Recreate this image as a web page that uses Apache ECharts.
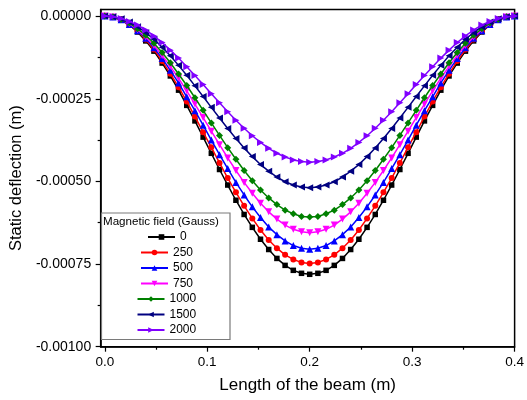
<!DOCTYPE html>
<html>
<head>
<meta charset="utf-8">
<script src="https://cdn.jsdelivr.net/npm/echarts@6/dist/echarts.min.js"></script>
<style>
html,body{margin:0;padding:0;background:#fff;}
#chart{width:527px;height:400px;}
</style>
</head>
<body>
<div id="chart"></div>
<script>
// Position along the beam (m)
const beamX = [0,0.008,0.016,0.024,0.032,0.04,0.048,0.056,0.064,0.072,0.08,0.088,0.096,0.104,0.112,0.12,0.128,0.136,0.144,0.152,0.16,0.168,0.176,0.184,0.192,0.2,0.208,0.216,0.224,0.232,0.24,0.248,0.256,0.264,0.272,0.28,0.288,0.296,0.304,0.312,0.32,0.328,0.336,0.344,0.352,0.36,0.368,0.376,0.384,0.392,0.4];

// Static deflection in micrometres (1e-6 m) for each magnetic field
const g0    = [0,-3,-12,-27,-48,-75,-106,-142,-181,-224,-270,-317,-366,-415,-464,-511,-557,-600,-639,-675,-706,-733,-754,-769,-778,-781,-778,-769,-754,-733,-706,-675,-639,-600,-557,-511,-464,-415,-366,-317,-270,-224,-181,-142,-106,-75,-48,-27,-12,-3,0];
const g250  = [0,-3,-12,-26,-46,-71,-101,-136,-174,-215,-258,-304,-351,-397,-444,-490,-533,-574,-612,-647,-677,-702,-722,-736,-745,-748,-745,-736,-722,-702,-677,-647,-612,-574,-533,-490,-444,-397,-351,-304,-258,-215,-174,-136,-101,-71,-46,-26,-12,-3,0];
const g500  = [0,-3,-11,-25,-44,-67,-96,-128,-164,-202,-244,-286,-330,-375,-419,-461,-503,-541,-577,-609,-638,-661,-680,-694,-702,-705,-702,-694,-680,-661,-638,-609,-577,-541,-503,-461,-419,-375,-330,-286,-244,-202,-164,-128,-96,-67,-44,-25,-11,-3,0];
const g750  = [0,-3,-10,-23,-41,-63,-89,-119,-152,-188,-226,-266,-307,-348,-389,-429,-467,-503,-536,-566,-592,-614,-632,-645,-652,-655,-652,-645,-632,-614,-592,-566,-536,-503,-467,-429,-389,-348,-307,-266,-226,-188,-152,-119,-89,-63,-41,-23,-10,-3,0];
const g1000 = [0,-2,-10,-21,-38,-58,-82,-110,-141,-175,-210,-247,-285,-323,-361,-398,-433,-467,-498,-526,-550,-570,-587,-598,-606,-608,-606,-598,-587,-570,-550,-526,-498,-467,-433,-398,-361,-323,-285,-247,-210,-175,-141,-110,-82,-58,-38,-21,-10,-2,0];
const g1500 = [0,-2,-8,-18,-32,-50,-70,-94,-120,-149,-179,-211,-243,-276,-308,-340,-370,-399,-425,-449,-469,-487,-501,-511,-517,-519,-517,-511,-501,-487,-469,-449,-425,-399,-370,-340,-308,-276,-243,-211,-179,-149,-120,-94,-70,-50,-32,-18,-8,-2,0];
const g2000 = [0,-2,-7,-16,-27,-42,-60,-80,-103,-127,-153,-180,-207,-235,-262,-289,-315,-339,-362,-382,-400,-415,-426,-435,-440,-442,-440,-435,-426,-415,-400,-382,-362,-339,-315,-289,-262,-235,-207,-180,-153,-127,-103,-80,-60,-42,-27,-16,-7,-2,0];

const seriesNames = ['0','250','500','750','1000','1500','2000'];
const seriesValues = [g0,g250,g500,g750,g1000,g1500,g2000];

const xTicks = [0,0.1,0.2,0.3,0.4];
const xMinorTicks = [0.05,0.15,0.25,0.35];
const yTicks = [0,-0.00025,-0.0005,-0.00075,-0.001];
const yMinorTicks = [-0.000125,-0.000375,-0.000625,-0.000875];

const legendTitle = 'Magnetic field (Gauss)';
const xTitle = 'Length of the beam (m)';
const yTitle = 'Static deflection (m)';

// styles
const colors = ['#000000','#ff0000','#0000ff','#ff00ff','#008000','#000080','#8000ff'];
const symbols = ['rect','circle','triangle','triangle','diamond','triangle','triangle'];
const rotates = [0,0,0,180,0,90,-90];
const sizes = [5.5,6,7,7,7,7,7];
const legendLeft = [147,140,140,140,136.5,136.5,136.5];
const legendCenterY = [238,253.5,269,284.5,300,315.5,331];
const FONT = 'Arial, "Liberation Sans", sans-serif';

const chart = echarts.init(document.getElementById('chart'));

const series = seriesNames.map((n,i)=>({
  name: n,
  type: 'line',
  xAxisIndex: 0, yAxisIndex: 0,
  data: beamX.map((x,j)=>[x, seriesValues[i][j]*1e-6]),
  symbol: symbols[i],
  symbolRotate: rotates[i],
  symbolSize: sizes[i],
  showAllSymbol: true,
  color: colors[i],
  lineStyle: {width: 1.5, color: colors[i]},
  itemStyle: {color: colors[i]},
  animation: false,
  z: 2 + i*0.01
}));

const legends = seriesNames.map((n,i)=>({
  data: [n],
  orient: 'vertical',
  left: legendLeft[i],
  top: legendCenterY[i] - 7,
  itemWidth: 27,
  itemHeight: 7,
  padding: 0,
  selectedMode: false,
  textStyle: {fontSize: 12, fontFamily: FONT, color: '#000'},
  z: 6
}));

const option = {
  animation: false,
  backgroundColor: '#fff',
  textStyle: {fontFamily: FONT},
  grid: {left: 97.5, right: 9.3, top: 9.5, bottom: 53.3, show: true, borderColor: '#000', borderWidth: 1.5, backgroundColor: 'transparent'},
  legend: legends,
  xAxis: [{
    type: 'value', min: -0.004, max: 0.4, position: 'bottom',
    axisLine: {show: true, onZero: false, lineStyle: {color: '#000', width: 1.5}},
    axisTick: {show: true, inside: false, length: 5, customValues: xTicks, lineStyle: {color: '#000', width: 1.2}},
    axisLabel: {show: true, customValues: xTicks, margin: 9, fontSize: 13.5, color: '#000', fontFamily: FONT, formatter: v => v.toFixed(1)},
    splitLine: {show: false},
    name: xTitle, nameLocation: 'middle', nameGap: 30,
    nameTextStyle: {fontSize: 17, color: '#000', fontFamily: FONT}
  },{
    type: 'value', min: -0.004, max: 0.4, position: 'bottom', offset: 0,
    axisLine: {show: false, onZero: false},
    axisTick: {show: true, inside: false, length: 3, customValues: xMinorTicks, lineStyle: {color: '#000', width: 1.2}},
    axisLabel: {show: false},
    splitLine: {show: false}
  }],
  yAxis: [{
    type: 'value', min: -0.001, max: 0.00002, position: 'left',
    axisLine: {show: true, onZero: false, lineStyle: {color: '#000', width: 1.5}},
    axisTick: {show: true, inside: false, length: 5, customValues: yTicks, lineStyle: {color: '#000', width: 1.2}},
    axisLabel: {show: true, customValues: yTicks, margin: 9.5, fontSize: 14, color: '#000', fontFamily: FONT, formatter: v => v.toFixed(5)},
    splitLine: {show: false},
    name: yTitle, nameLocation: 'middle', nameGap: 69, nameRotate: 90,
    nameTextStyle: {fontSize: 16.5, color: '#000', fontFamily: FONT}
  },{
    type: 'value', min: -0.001, max: 0.00002, position: 'left', offset: 0,
    axisLine: {show: false, onZero: false},
    axisTick: {show: true, inside: false, length: 3, customValues: yMinorTicks, lineStyle: {color: '#000', width: 1.2}},
    axisLabel: {show: false},
    splitLine: {show: false}
  }],
  graphic: [{
    type: 'rect',
    shape: {x: 101.5, y: 213, width: 128.5, height: 126.5},
    style: {fill: '#fff', stroke: '#7a7a7a', lineWidth: 1.2},
    z: 5
  },{
    type: 'text',
    x: 103, y: 222,
    style: {text: legendTitle, fontSize: 11.6, fontFamily: FONT, fill: '#000', verticalAlign: 'middle'},
    z: 7
  }],
  series: series
};
chart.setOption(option);
</script>
</body>
</html>
